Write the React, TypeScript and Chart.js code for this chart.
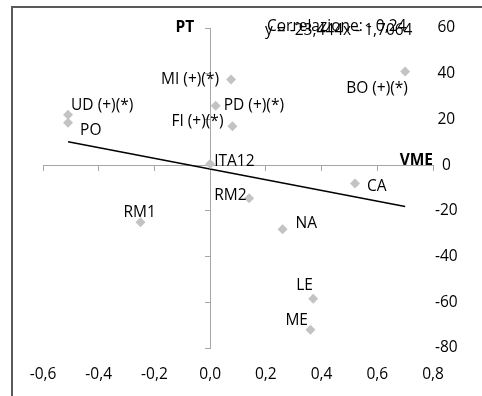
import React, { useEffect, useRef } from 'react';
import { Chart, registerables } from 'chart.js';
Chart.register(...registerables);

const cityLabels = ['BO (+)(*)', 'MI (+)(*)', 'PD (+)(*)', 'FI (+)(*)', 'UD (+)(*)', 'PO', 'ITA12', 'CA', 'RM2', 'RM1', 'NA', 'LE', 'ME'];
const vmeValues = [0.70, 0.075, 0.02, 0.08, -0.51, -0.51, 0.0, 0.52, 0.14, -0.25, 0.26, 0.37, 0.36];
const ptValues = [41, 37.5, 26, 17, 22, 18.5, 0.5, -8, -14.5, -25, -28, -58.5, -72];
const trendX = [-0.51, 0.70];
const trendY = [10.25, -18.12];
const xTickLabels = ['-0,6', '-0,4', '-0,2', '0,0', '0,2', '0,4', '0,6', '0,8'];
const yTickLabels = ['-80', '-60', '-40', '-20', '0', '20', '40', '60'];
const correlationText = 'Correlazione: - 0,24';
const equationText = 'y = -23,444x - 1,7064';
const xTitle = 'VME';
const yTitle = 'PT';

// label placement (pixel offsets from each point: left edge, vertical centre)
const labelOffsets: [number, number][] = [
  [-59, 17], [-70, 0], [8, 0], [-61, -5], [3, -9], [12, 8], [4, -2], [12, 3], [-35, -3], [-17, -10], [13, -6], [-17, -13], [-25, -9],
];

const FONT = '"Open Sans", "DejaVu Sans", sans-serif';
const FS = 15.5;

const labelPlugin = {
  id: 'labelPlugin',
  afterDatasetsDraw(chart: any) {
    const ctx = chart.ctx;
    const meta = chart.getDatasetMeta(0);
    const xs = chart.scales.x;
    const ys = chart.scales.y;
    ctx.save();
    ctx.fillStyle = '#000';
    ctx.font = `${FS}px ${FONT}`;
    ctx.textAlign = 'left';
    ctx.textBaseline = 'middle';
    meta.data.forEach((el: any, i: number) => {
      const [dx, dy] = labelOffsets[i];
      ctx.fillText(cityLabels[i], el.x + dx, el.y + dy);
    });
    // correlation and equation
    ctx.fillText(correlationText, chart.chartArea.left + 224, chart.chartArea.top - 1);
    ctx.fillText(equationText, chart.chartArea.left + 222, chart.chartArea.top + 3);
    // axis titles
    ctx.font = `bold 15.5px ${FONT}`;
    ctx.textAlign = 'right';
    ctx.fillText(yTitle, xs.getPixelForValue(0) - 16, ys.getPixelForValue(60));
    ctx.textBaseline = 'alphabetic';
    ctx.fillText(xTitle, chart.chartArea.right, ys.getPixelForValue(0) - 0.5);
    ctx.restore();
  },
};

export default function App() {
  const ref = useRef<HTMLCanvasElement>(null);
  useEffect(() => {
    if (!ref.current) return;
    const axisGrid = { drawOnChartArea: false, drawTicks: true, tickLength: 5, color: '#a6a6a6', lineWidth: 1 };
    const chart = new Chart(ref.current, {
      type: 'scatter',
      data: {
        datasets: [
          {
            type: 'scatter',
            data: vmeValues.map((x, i) => ({ x, y: ptValues[i] })),
            pointStyle: 'rectRot',
            pointRadius: 5,
            backgroundColor: '#c3c3c3',
            borderColor: '#c3c3c3',
            borderWidth: 0,
            xAxisID: 'x',
            yAxisID: 'y',
          },
          {
            type: 'line',
            data: trendX.map((x, i) => ({ x, y: trendY[i] })),
            borderColor: '#000',
            borderWidth: 1.5,
            pointRadius: 0,
            fill: false,
            xAxisID: 'x',
            yAxisID: 'y',
          },
        ],
      },
      options: {
        responsive: false,
        animation: false,
        layout: { padding: { left: 43, top: 28, right: 0, bottom: 0 } },
        plugins: { legend: { display: false }, tooltip: { enabled: false } },
        scales: {
          x: {
            type: 'linear', position: { y: 0 } as any, min: -0.6, max: 0.8,
            ticks: { display: false, stepSize: 0.2 },
            grid: axisGrid, border: { color: '#a6a6a6', width: 1 },
          },
          y: {
            type: 'linear', position: { x: 0 } as any, min: -80, max: 60,
            ticks: { display: false, stepSize: 20 },
            grid: axisGrid, border: { color: '#a6a6a6', width: 1 },
          },
          xb: {
            type: 'linear', axis: 'x', position: 'bottom', min: -0.6, max: 0.8,
            ticks: { stepSize: 0.2, padding: 17, maxRotation: 0, color: '#000', font: { family: FONT, size: FS }, callback: (_v: any, i: number) => xTickLabels[i] },
            grid: { display: false, drawTicks: false }, border: { display: false },
            afterFit: (s: any) => { s.height = 48; },
          },
          yr: {
            type: 'linear', axis: 'y', position: 'right', min: -80, max: 60,
            ticks: { stepSize: 20, padding: 2, crossAlign: 'center', color: '#000', font: { family: FONT, size: FS }, callback: (_v: any, i: number) => yTickLabels[i] },
            grid: { display: false, drawTicks: false }, border: { display: false },
            afterFit: (s: any) => { s.width = 49; },
          },
        } as any,
      },
      plugins: [labelPlugin],
    });
    return () => chart.destroy();
  }, []);
  return (
    <div style={{ position: 'absolute', left: 0, top: 0, width: 482, height: 396, background: '#fff', overflow: 'hidden' }}>
      <div style={{ position: 'absolute', left: 11, top: 6, width: 480, height: 400, borderTop: '2px solid #5a5a5a', borderLeft: '2px solid #5a5a5a' }} />
      <canvas ref={ref} width={482} height={396} style={{ position: 'absolute', left: 0, top: 0 }} />
    </div>
  );
}
